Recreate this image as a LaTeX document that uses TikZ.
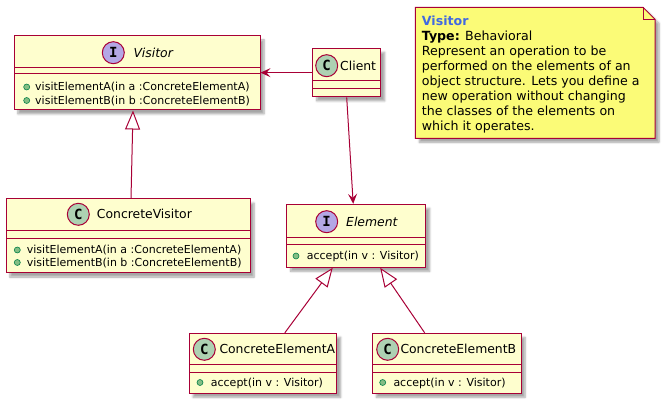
\documentclass[tikz,border=0pt]{standalone}
\usepackage{fontspec}
\setmainfont{DejaVu Sans}
\newfontfamily\iconfont{DejaVu Sans Mono}
\usetikzlibrary{arrows.meta,fit,shadows.blur}
\definecolor{umlborder}{HTML}{A80036}
\definecolor{umlfill}{HTML}{FEFECE}
\definecolor{notefill}{HTML}{FBFB77}
\definecolor{iconc}{HTML}{ADD1B2}
\definecolor{iconi}{HTML}{B4A7E5}
\definecolor{bulletfill}{HTML}{84BE84}
\definecolor{bulletdraw}{HTML}{038048}
\definecolor{notetitle}{HTML}{4169E1}
\begin{document}
\begin{tikzpicture}[x=1pt,y=-1pt,
  myshadow/.style={blur shadow={shadow xshift=4pt,shadow yshift=-4pt,shadow blur steps=6,shadow blur radius=2pt,shadow opacity=35}},
  classbox/.style={draw=umlborder,fill=umlfill,line width=1pt,inner sep=0pt,myshadow},
  sepline/.style={draw=umlborder,line width=1pt},
  iconbase/.style={circle,draw=umlborder,line width=1pt,minimum size=22pt,inner sep=0pt,font=\iconfont\bfseries\fontsize{14}{14}\selectfont},
  iconC/.style={iconbase,fill=iconc},
  iconI/.style={iconbase,fill=iconi},
  cname/.style={anchor=base west,inner sep=0pt,font=\fontsize{12.4}{14}\selectfont},
  iname/.style={cname,font=\fontsize{12.4}{14}\selectfont\itshape},
  member/.style={anchor=base west,inner sep=0pt,font=\fontsize{11}{13}\selectfont},
  bullet/.style={circle,fill=bulletfill,draw=bulletdraw,line width=0.6pt,minimum size=6pt,inner sep=0pt},
  notetext/.style={anchor=base west,inner sep=0pt,font=\fontsize{12.6}{15}\selectfont},
  genarrow/.style={draw=umlborder,line width=1pt,-{Triangle[open,length=19pt,width=15pt,fill=white]}},
  navarrow/.style={draw=umlborder,line width=1pt,-{Stealth[length=10pt,width=9pt,inset=4pt]}}
]
\useasboundingbox (0,0) rectangle (665,403);

% ---------- Visitor (interface)
\node[classbox,fit={(14,36) (260,110)}] (visitor) {};
\draw[sepline] (14,68) -- (260,68);
\draw[sepline] (14,74) -- (260,74);
\node[iconI] (visitoricon) at (113.3,52.7) {I};
\node[iname] (visitorname) at (133.3,57.2) {Visitor};
\node[bullet] (visitorb1) at (26.7,87) {};
\node[member] (visitorm1) at (35,91) {visitElementA(in a :ConcreteElementA)};
\node[bullet] (visitorb2) at (26.7,100.5) {};
\node[member] (visitorm2) at (35,104.5) {visitElementB(in b :ConcreteElementB)};

% ---------- Client
\node[classbox,fit={(312.7,48.3) (380.7,97)}] (client) {};
\draw[sepline] (312.7,81) -- (380.7,81);
\draw[sepline] (312.7,89) -- (380.7,89);
\node[iconC] (clienticon) at (326.7,65.7) {C};
\node[cname] (clientname) at (340,70.2) {Client};

% ---------- ConcreteVisitor
\node[classbox,fit={(6,199) (250,273)}] (cv) {};
\draw[sepline] (6,230.7) -- (250,230.7);
\draw[sepline] (6,238.3) -- (250,238.3);
\node[iconC] (cvicon) at (78.3,214.3) {C};
\node[cname] (cvname) at (96.7,218.8) {ConcreteVisitor};
\node[bullet] (cvb1) at (17.3,250) {};
\node[member] (cvm1) at (26.7,254) {visitElementA(in a :ConcreteElementA)};
\node[bullet] (cvb2) at (17.3,262.5) {};
\node[member] (cvm2) at (26.7,266.5) {visitElementB(in b :ConcreteElementB)};

% ---------- Element (interface)
\node[classbox,fit={(286.7,204.3) (425.7,267.3)}] (element) {};
\draw[sepline] (286.7,237.3) -- (425.7,237.3);
\draw[sepline] (286.7,245) -- (425.7,245);
\node[iconI] (elementicon) at (326.7,221.7) {I};
\node[iname] (elementname) at (346,226.2) {Element};
\node[bullet] (elementb1) at (296,256) {};
\node[member] (elementm1) at (306.7,260) {accept(in v : Visitor)};

% ---------- ConcreteElementA
\node[classbox,fit={(189,333.3) (336.7,393.3)}] (cea) {};
\draw[sepline] (189,365) -- (336.7,365);
\draw[sepline] (189,372.7) -- (336.7,372.7);
\node[iconC] (ceaicon) at (204.3,349.3) {C};
\node[cname] (ceaname) at (219.3,353.8) {ConcreteElementA};
\node[bullet] (ceab1) at (200,382.5) {};
\node[member] (ceam1) at (210.7,386.5) {accept(in v : Visitor)};

% ---------- ConcreteElementB
\node[classbox,fit={(372.3,333.3) (521,393.3)}] (ceb) {};
\draw[sepline] (372.3,365) -- (521,365);
\draw[sepline] (372.3,372.7) -- (521,372.7);
\node[iconC] (cebicon) at (387.7,349.3) {C};
\node[cname] (cebname) at (400.3,353.8) {ConcreteElementB};
\node[bullet] (cebb1) at (382.7,382.5) {};
\node[member] (cebm1) at (393.3,386.5) {accept(in v : Visitor)};

% ---------- Note
\path[draw=umlborder,fill=notefill,line width=1pt,myshadow]
  (415.3,7.3) -- (643,7.3) -- (655,19.3) -- (655,138.3) -- (415.3,138.3) -- cycle;
\draw[umlborder,line width=1pt] (643,7.3) -- (643,19.3) -- (655,19.3);
\node[notetext,font=\fontsize{12.6}{15}\selectfont\bfseries,text=notetitle] (note1) at (421.7,25.3) {Visitor};
\node[notetext] (note2) at (421.7,40.4) {\textbf{Type:} Behavioral};
\node[notetext] (note3) at (421.7,55.5) {Represent an operation to be};
\node[notetext] (note4) at (421.7,70.6) {performed on the elements of an};
\node[notetext] (note5) at (421.7,85.7) {object structure. Lets you define a};
\node[notetext] (note6) at (421.7,100.8) {new operation without changing};
\node[notetext] (note7) at (421.7,115.9) {the classes of the elements on};
\node[notetext] (note8) at (421.7,131.0) {which it operates.};

% ---------- Connectors
\draw[navarrow] (client.west) -- (visitor.east |- client.west);
\draw[navarrow] (client.south) -- ([xshift=-3pt]element.north);
\draw[genarrow] ([xshift=3pt]cv.north) -- ([xshift=-4pt]visitor.south);
\draw[genarrow] ([xshift=22pt]cea.north) -- ([xshift=-23.5pt]element.south);
\draw[genarrow] ([xshift=-22pt]ceb.north) -- ([xshift=24pt]element.south);
\end{tikzpicture}
\end{document}
